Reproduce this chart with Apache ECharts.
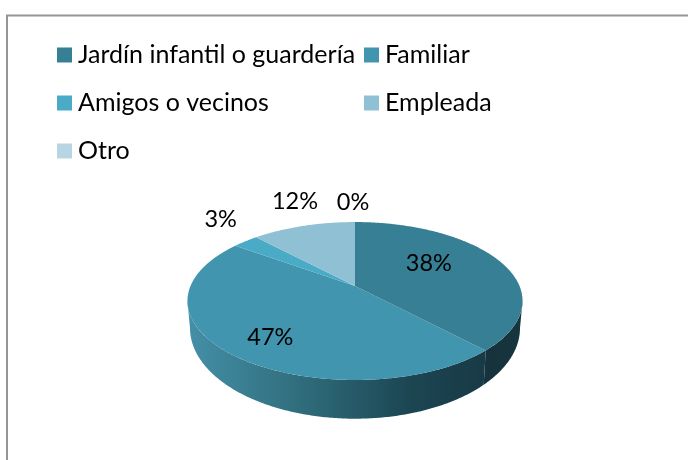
<!DOCTYPE html>
<html>
<head>
<meta charset="utf-8">
<style>
  html, body { margin: 0; padding: 0; background: #fff; }
  #chart { width: 688px; height: 460px; }
</style>
<script src="https://cdn.jsdelivr.net/npm/echarts@6/dist/echarts.min.js"></script>
</head>
<body>
<div id="chart"></div>
<script>
const categories = ["Jardín infantil o guardería", "Familiar", "Amigos o vecinos", "Empleada", "Otro"];
const values = [38, 47, 3, 12, 0];
const labels = ["38%", "47%", "3%", "12%", "0%"];

const topColors = ["#367f95", "#4195ae", "#49abc6", "#90c0d3", "#b8d5e3"];
// radial position of each label on the disc, then a small nudge in pixels
const labelRadius = [0.5, 0.7, 1.25, 1.2, 1.2];
const labelNudge = [[0, -9], [0, 7], [-1, -12], [0, -15], [-2, -9]];

const total = values.reduce((a, b) => a + b, 0);
const fontFamily = "Lato, 'Noto Sans', sans-serif";

// the disc is drawn in perspective, 3d pie is not in echarts core
const persp = 0.19;
const upperDisc = { cx: 355, cy: 286, rx: 164.5, ry: 76.1 };
const lowerDisc = { cx: 355, cy: 310.8, rx: 162, ry: 87.4 };
// where the rim leaves the outline of the disc, left and right
const rimStart = Math.acos(-persp);
const rimEnd = Math.PI * 2 - rimStart;

function project(theta, r, disc) {
  const u = Math.sin(theta) * r;
  const v = -Math.cos(theta) * r;
  const w = 1 - persp * v;
  return [disc.cx + (disc.rx * u) / w, disc.cy + (disc.ry * v) / w];
}

function arc(from, to, r, disc) {
  const pts = [];
  const steps = Math.max(2, Math.ceil(Math.abs(to - from) / 0.01));
  for (let i = 0; i <= steps; i++) {
    pts.push(project(from + ((to - from) * i) / steps, r, disc));
  }
  return pts;
}

function angleOf(sum) {
  return (sum / total) * Math.PI * 2;
}

function wallGradient(index) {
  if (index === 0) {
    return new echarts.graphic.LinearGradient(0, 0, 1, 0, [
      { offset: 0, color: "#16333d" },
      { offset: 1, color: "#17353f" },
    ]);
  }
  return new echarts.graphic.LinearGradient(0, 0, 1, 0, [
    { offset: 0, color: "#458fa8" },
    { offset: 0.35, color: "#31707f" },
    { offset: 0.75, color: "#1c4552" },
    { offset: 1, color: "#183a46" },
  ]);
}

function renderSlice(index) {
  return function () {
    const before = values.slice(0, index).reduce((a, b) => a + b, 0);
    const start = angleOf(before);
    const end = angleOf(before + values[index]);
    const children = [];

    // only the part of the rim facing the viewer gets a wall
    const wallFrom = Math.max(start, rimStart);
    const wallTo = Math.min(end, rimEnd);
    if (wallTo > wallFrom) {
      const upper = arc(wallFrom, wallTo, 1, upperDisc);
      const lower = arc(wallTo, wallFrom, 1, lowerDisc);
      children.push({
        type: "polygon",
        shape: { points: upper.concat(lower) },
        style: { fill: wallGradient(index) },
      });
    }

    if (end > start) {
      children.push({
        type: "polygon",
        shape: { points: [[upperDisc.cx, upperDisc.cy]].concat(arc(start, end, 1, upperDisc)) },
        style: { fill: topColors[index] },
      });
    }

    const mid = (start + end) / 2;
    const at = project(values[index] === 0 ? start : mid, labelRadius[index], upperDisc);
    children.push({
      type: "text",
      z2: 10,
      style: {
        x: at[0] + labelNudge[index][0],
        y: at[1] + labelNudge[index][1],
        text: labels[index],
        fill: "#000",
        font: "23.5px " + fontFamily,
        align: "center",
        verticalAlign: "middle",
      },
    });
    return { type: "group", children };
  };
}

const chart = echarts.init(document.getElementById("chart"), null, { renderer: "canvas" });

const legendBase = {
  orient: "vertical",
  icon: "rect",
  itemWidth: 15,
  itemHeight: 15,
  itemGap: 22,
  top: 42,
  padding: 0,
  selectedMode: false,
  textStyle: { color: "#000", fontFamily: fontFamily, fontSize: 25, lineHeight: 26, padding: [0, 0, 0, 1] },
};

chart.setOption({
  animation: false,
  backgroundColor: "#fff",
  legend: [
    { ...legendBase, left: 57, data: [categories[0], categories[2], categories[4]] },
    { ...legendBase, left: 364, data: [categories[1], categories[3]] },
  ],
  graphic: [
    {
      type: "polyline",
      silent: true,
      shape: { points: [[7, 460], [7, 15.5], [688, 15.5]] },
      style: { stroke: "#969696", lineWidth: 2, fill: null },
    },
  ],
  series: categories.map((name, i) => ({
    type: "custom",
    name: name,
    coordinateSystem: "none",
    itemStyle: { color: topColors[i] },
    z: i === 0 ? 3 : 2,
    data: [values[i]],
    renderItem: renderSlice(i),
  })),
});
</script>
</body>
</html>
